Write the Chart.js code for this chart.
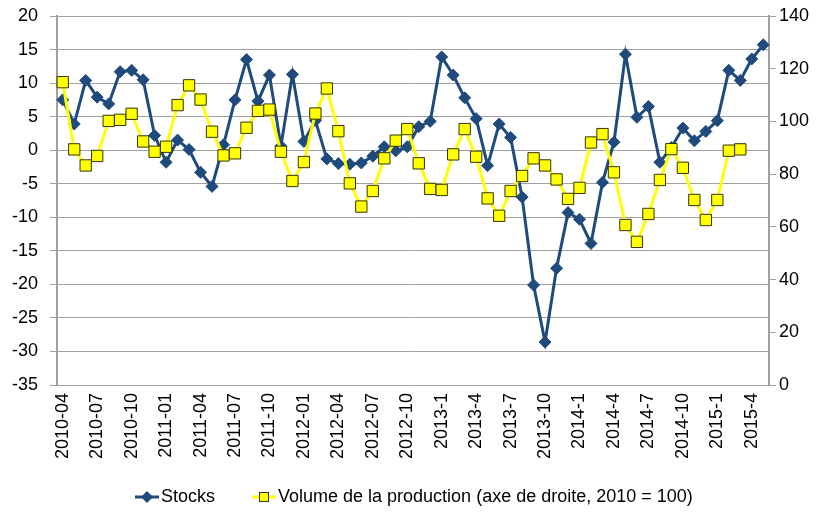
<!DOCTYPE html>
<html><head><meta charset="utf-8">
<script src="https://cdn.jsdelivr.net/npm/chart.js@4/dist/chart.umd.min.js"></script>
<style>html,body{margin:0;padding:0;background:#fff;}#wrap{width:819px;height:516px;}</style>
</head><body><div id="wrap"><canvas id="c" width="819" height="516"></canvas></div>
<script>
const categories = [
 "2010-04","2010-05","2010-06","2010-07","2010-08","2010-09","2010-10","2010-11","2010-12",
 "2011-01","2011-02","2011-03","2011-04","2011-05","2011-06","2011-07","2011-08","2011-09","2011-10","2011-11","2011-12",
 "2012-01","2012-02","2012-03","2012-04","2012-05","2012-06","2012-07","2012-08","2012-09","2012-10","2012-11","2012-12",
 "2013-1","2013-2","2013-3","2013-4","2013-5","2013-6","2013-7","2013-8","2013-9","2013-10","2013-11","2013-12",
 "2014-1","2014-2","2014-3","2014-4","2014-5","2014-6","2014-7","2014-8","2014-9","2014-10","2014-11","2014-12",
 "2015-1","2015-2","2015-3","2015-4","2015-5"
];
const stocks = [
 7.5, 3.9, 10.4, 7.9, 6.9, 11.7, 11.9, 10.5, 2.2, -1.8,
 1.5, 0.1, -3.3, -5.4, 0.8, 7.5, 13.5, 7.3, 11.2, 0.6,
 11.3, 1.3, 4.4, -1.3, -2.0, -2.1, -1.9, -0.9, 0.5, -0.1,
 0.5, 3.5, 4.3, 13.9, 11.2, 7.8, 4.7, -2.3, 3.9, 1.9,
 -7.0, -20.1, -28.6, -17.6, -9.3, -10.3, -13.9, -4.8, 1.2, 14.3,
 4.9, 6.5, -1.8, 0.4, 3.3, 1.4, 2.8, 4.4, 11.9, 10.4,
 13.6, 15.7
];
const volume = [
 114.9, 89.4, 83.3, 86.9, 100.2, 100.6, 102.9, 92.4, 88.5, 90.4,
 106.2, 113.7, 108.3, 96.1, 87.1, 87.9, 97.6, 104.0, 104.5, 88.5,
 77.4, 84.6, 103.0, 112.5, 96.3, 76.5, 67.7, 73.6, 86.0, 92.7,
 97.1, 84.1, 74.4, 74.0, 87.5, 97.1, 86.6, 70.8, 64.2, 73.6,
 79.3, 86.0, 83.3, 78.0, 70.6, 74.8, 92.0, 95.2, 80.7, 60.7,
 54.3, 64.9, 77.8, 89.5, 82.4, 70.2, 62.6, 70.2, 88.9, 89.4,
 null, null
];
const seriesNames = ["Stocks", "Volume de la production (axe de droite, 2010 = 100)"];
const leftAxis = {min: -35, max: 20, step: 5};
const rightAxis = {min: 0, max: 140, step: 20};

const FONT = "'Liberation Sans', Arial, sans-serif";
const FS = 18;
const BLUE = '#1F4A7C';
const YEL = '#FFFF00';
const GRID = '#A0A0A0';

const legendPlugin = {
  id: 'xlLegend',
  afterDraw(chart) {
    const ctx = chart.ctx;
    const y = 497;
    ctx.save();
    ctx.font = FS + 'px ' + FONT;
    ctx.textBaseline = 'middle';
    // Stocks
    ctx.strokeStyle = BLUE; ctx.lineWidth = 3;
    ctx.beginPath(); ctx.moveTo(135, y); ctx.lineTo(159, y); ctx.stroke();
    ctx.fillStyle = BLUE; ctx.beginPath();
    ctx.moveTo(147, y-6); ctx.lineTo(153, y); ctx.lineTo(147, y+6); ctx.lineTo(141, y); ctx.closePath(); ctx.fill();
    ctx.fillStyle = '#000';
    ctx.fillText(seriesNames[0], 161, y);
    // Volume
    ctx.strokeStyle = YEL; ctx.lineWidth = 3;
    ctx.beginPath(); ctx.moveTo(252, y); ctx.lineTo(276, y); ctx.stroke();
    ctx.fillStyle = YEL; ctx.fillRect(259, y-5, 10, 10);
    ctx.strokeStyle = '#333'; ctx.lineWidth = 1; ctx.strokeRect(259.5, y-4.5, 9, 9);
    ctx.fillStyle = '#000';
    ctx.fillText(seriesNames[1], 278, y);
    ctx.restore();
  }
};

function fixV(w) {
  return function(s) { s.width = w; s.paddingTop = 0; s.paddingBottom = 0; };
}

new Chart(document.getElementById('c'), {
  type: 'line',
  data: {
    labels: categories,
    datasets: [
      {
        label: seriesNames[0], data: stocks, yAxisID: 'y', order: 2,
        borderColor: BLUE, backgroundColor: BLUE, borderWidth: 3, tension: 0,
        pointStyle: 'rectRot', pointRadius: 6, pointBackgroundColor: BLUE, pointBorderColor: BLUE, pointBorderWidth: 1
      },
      {
        label: seriesNames[1], data: volume, yAxisID: 'y1', order: 1,
        borderColor: YEL, backgroundColor: YEL, borderWidth: 3, tension: 0,
        pointStyle: 'rect', pointRadius: 8, pointBackgroundColor: YEL, pointBorderColor: '#333300', pointBorderWidth: 1
      }
    ]
  },
  options: {
    responsive: false, animation: false, devicePixelRatio: 1,
    layout: {padding: {top: 16, bottom: 40, left: 0, right: 0}},
    plugins: {legend: {display: false}, tooltip: {enabled: false}},
    scales: {
      x: {
        offset: true,
        grid: {display: true, drawOnChartArea: false, drawTicks: false},
        border: {display: true, color: GRID, width: 1},
        ticks: {
          autoSkip: false, minRotation: 90, maxRotation: 90, padding: 8,
          color: '#000', font: {family: FONT, size: FS},
          callback: function(v, i) { return i % 3 === 0 ? categories[i] : ''; }
        },
        afterFit(s) { s.height = 91; s.paddingLeft = 0; s.paddingRight = 0; }
      },
      y: {
        position: 'left', min: leftAxis.min, max: leftAxis.max,
        grid: {color: GRID, lineWidth: 1, tickLength: 7, tickColor: GRID},
        border: {display: true, color: GRID, width: 2},
        ticks: {stepSize: leftAxis.step, padding: 12, color: '#000', font: {family: FONT, size: FS}},
        afterFit: fixV(57)
      },
      y1: {
        position: 'right', min: rightAxis.min, max: rightAxis.max,
        grid: {drawOnChartArea: false, tickLength: 7, tickColor: GRID},
        border: {display: true, color: GRID, width: 2},
        ticks: {stepSize: rightAxis.step, padding: 3, color: '#000', font: {family: FONT, size: FS}},
        afterFit: fixV(50)
      }
    }
  },
  plugins: [legendPlugin]
});
</script>
</body></html>
